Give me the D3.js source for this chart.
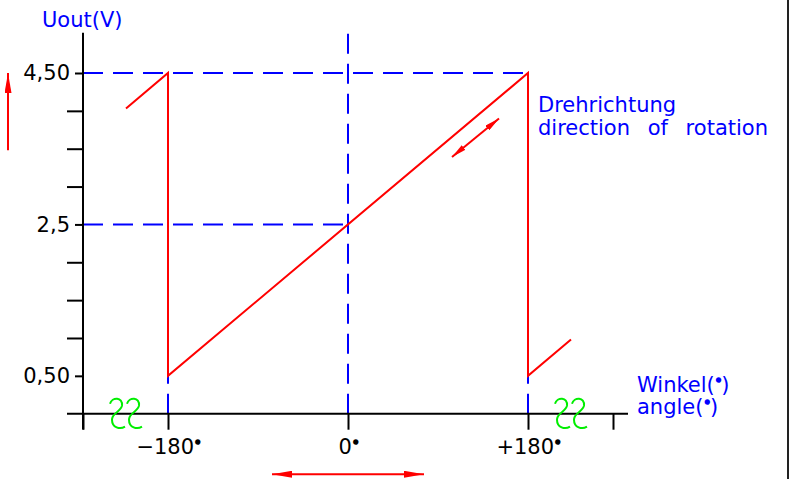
<!DOCTYPE html>
<html>
<head>
<meta charset="utf-8">
<script src="https://cdn.jsdelivr.net/npm/d3@7"></script>
<style>
  html, body { margin: 0; padding: 0; background: #fff; }
  svg { display: block; }
</style>
</head>
<body>
<svg id="chart" width="794" height="479"></svg>
<script>
// output characteristic: angle (deg) -> Uout (V)
const curveAngles = [-222, -180, -180, 180, 180, 223];
const curveVolts = [4.03, 4.5, 0.5, 4.5, 0.5, 0.98];

// axis ticks
const voltTicks = [0.5, 1, 1.5, 2, 2.5, 3, 3.5, 4, 4.5];
const voltLabels = { 0.5: '0,50', 2.5: '2,5', 4.5: '4,50' };
const angleTicks = [-265, -180, 0, 180, 265];
const angleLabels = { '-180': '\u2212180', 0: '0', 180: '+180' };

// blue dashed guide lines: [angle1, volt1, angle2, volt2]
const guideLines = [
  [-265, 4.5, 180, 4.5],
  [-265, 2.5, 0, 2.5],
  [0, 0, 0, 5.02],
  [-180, 0, -180, 4.5],
  [180, 0, 180, 4.5]
];

// axis break symbols (green) sit on the x axis at these angles
const breakAngles = [-222, 223];

// red annotation arrows: [angle1, volt1, angle2, volt2]
const rotationArrow = [104, 3.39, 151, 3.9];
const voltArrow = [-340, 3.48, -340, 4.5];
const angleArrow = [-76, -0.8, 76, -0.8];

const FONT = '"DejaVu Sans", sans-serif';
const FONT_SIZE = 21;
const BLUE = '#0000ff';
const RED = '#ff0000';

const svg = d3.select('#chart');

// Scales
const x = d3.scaleLinear().domain([-265, 265]).range([83, 613]);
const y = d3.scaleLinear().domain([0, 4.5]).range([413.7, 73]);

// Arrow markers
const defs = svg.append('defs');
const addMarker = (id, len, wid) => {
  defs.append('marker')
    .attr('id', id)
    .attr('viewBox', `0 0 ${len} ${wid}`)
    .attr('refX', len)
    .attr('refY', wid / 2)
    .attr('markerWidth', len)
    .attr('markerHeight', wid)
    .attr('markerUnits', 'userSpaceOnUse')
    .attr('orient', 'auto-start-reverse')
    .append('path')
    .attr('d', `M0,0L${len},${wid / 2}L0,${wid}Z`)
    .attr('fill', RED);
};
addMarker('arrow', 20, 7);
addMarker('arrow-s', 15, 6);

// Right frame border
svg.append('line')
  .attr('x1', 788).attr('x2', 788)
  .attr('y1', 0).attr('y2', 479)
  .attr('stroke', '#222')
  .attr('stroke-width', 2);

// Dashed guides (under the curve)
svg.selectAll('.guide')
  .data(guideLines)
  .enter().append('line')
  .attr('class', 'guide')
  .attr('x1', d => x(d[0]))
  .attr('y1', d => y(d[1]))
  .attr('x2', d => x(d[2]))
  .attr('y2', d => y(d[3]))
  .attr('stroke', BLUE)
  .attr('stroke-width', 2)
  .attr('stroke-dasharray', '20,10');

// Y axis (labelled ticks are short, the others long)
const yAxis = d3.axisLeft(y)
  .tickValues(voltTicks)
  .tickSize(16)
  .tickSizeOuter(0)
  .tickPadding(-3)
  .tickFormat(d => voltLabels[d] || '');

const gy = svg.append('g')
  .attr('transform', `translate(${x(-265)},0)`)
  .call(yAxis);
gy.select('.domain').remove();
gy.selectAll('.tick line')
  .attr('x2', d => voltLabels[d] ? -8 : -16)
  .attr('stroke', '#000')
  .attr('stroke-width', 2);
gy.selectAll('text')
  .attr('font-family', FONT)
  .attr('font-size', FONT_SIZE)
  .attr('fill', '#000');

svg.append('line')
  .attr('x1', x(-265)).attr('x2', x(-265))
  .attr('y1', y(5.03)).attr('y2', y(-0.21))
  .attr('stroke', '#000')
  .attr('stroke-width', 2);

// X axis
const xAxis = d3.axisBottom(x)
  .tickValues(angleTicks)
  .tickSize(16)
  .tickSizeOuter(0)
  .tickPadding(9)
  .tickFormat(d => angleLabels[d] || '');

const gx = svg.append('g')
  .attr('transform', `translate(0,${y(0)})`)
  .call(xAxis);
gx.select('.domain').remove();
gx.selectAll('line').attr('stroke', '#000').attr('stroke-width', 2);
gx.selectAll('text')
  .attr('font-family', FONT)
  .attr('font-size', FONT_SIZE)
  .attr('fill', '#000');

// degree marks drawn as small filled rings
gx.selectAll('.tick text')
  .filter(d => angleLabels[d] !== undefined)
  .append('tspan')
  .attr('font-size', 11)
  .attr('dx', 1)
  .attr('dy', -6)
  .attr('stroke', '#000')
  .attr('stroke-width', 2)
  .text('\u00b0');

svg.append('line')
  .attr('x1', x(-281)).attr('x2', x(280))
  .attr('y1', y(0)).attr('y2', y(0))
  .attr('stroke', '#000')
  .attr('stroke-width', 2);

// Axis break symbols
const squiggle = ox => {
  const b = y(0);
  return `M${ox},${b - 10} C${ox + 2},${b - 17} ${ox + 13},${b - 17} ${ox + 12},${b - 8}` +
    ` C${ox + 11},${b - 2} ${ox + 2},${b - 1} ${ox + 2},${b + 6}` +
    ` C${ox + 2},${b + 14} ${ox + 10},${b + 16} ${ox + 15},${b + 13}`;
};
svg.selectAll('.break')
  .data(breakAngles.flatMap(a => [x(a) - 16, x(a) + 1]))
  .enter().append('path')
  .attr('class', 'break')
  .attr('d', d => squiggle(d))
  .attr('fill', 'none')
  .attr('stroke', '#00ee00')
  .attr('stroke-width', 2);

// Output curve
const line = d3.line()
  .x(d => x(d[0]))
  .y(d => y(d[1]));

svg.append('path')
  .datum(d3.zip(curveAngles, curveVolts))
  .attr('d', line)
  .attr('fill', 'none')
  .attr('stroke', RED)
  .attr('stroke-width', 2);

// Annotation arrows
svg.append('line')
  .attr('x1', x(voltArrow[0])).attr('y1', y(voltArrow[1]))
  .attr('x2', x(voltArrow[2])).attr('y2', y(voltArrow[3]))
  .attr('stroke', RED)
  .attr('stroke-width', 2)
  .attr('marker-end', 'url(#arrow)');

svg.append('line')
  .attr('x1', x(angleArrow[0])).attr('y1', y(angleArrow[1]))
  .attr('x2', x(angleArrow[2])).attr('y2', y(angleArrow[3]))
  .attr('stroke', RED)
  .attr('stroke-width', 2)
  .attr('marker-start', 'url(#arrow)')
  .attr('marker-end', 'url(#arrow)');

svg.append('line')
  .attr('x1', x(rotationArrow[0])).attr('y1', y(rotationArrow[1]))
  .attr('x2', x(rotationArrow[2])).attr('y2', y(rotationArrow[3]))
  .attr('stroke', RED)
  .attr('stroke-width', 2)
  .attr('marker-start', 'url(#arrow-s)')
  .attr('marker-end', 'url(#arrow-s)');

// Blue labels
const blueText = (tx, ty, parts) => {
  const t = svg.append('text')
    .attr('x', tx)
    .attr('y', ty)
    .attr('font-family', FONT)
    .attr('font-size', FONT_SIZE)
    .attr('fill', BLUE);
  parts.forEach(p => {
    if (p === 'deg') {
      t.append('tspan')
        .attr('font-size', 11)
        .attr('dx', 1)
        .attr('dy', -6)
        .attr('stroke', BLUE)
        .attr('stroke-width', 2)
        .text('\u00b0');
    } else {
      t.append('tspan').attr('dy', p.dy || null).text(p.s);
    }
  });
  return t;
};

blueText(42, 27, [{ s: 'Uout(V)' }]);
blueText(538, 112, [{ s: 'Drehrichtung' }]);
blueText(538, 135, [{ s: 'direction of rotation' }]).attr('word-spacing', 11);
blueText(637, 392, [{ s: 'Winkel(' }, 'deg', { s: ')', dy: 6 }]);
blueText(637, 414, [{ s: 'angle(' }, 'deg', { s: ')', dy: 6 }]);
</script>
</body>
</html>
